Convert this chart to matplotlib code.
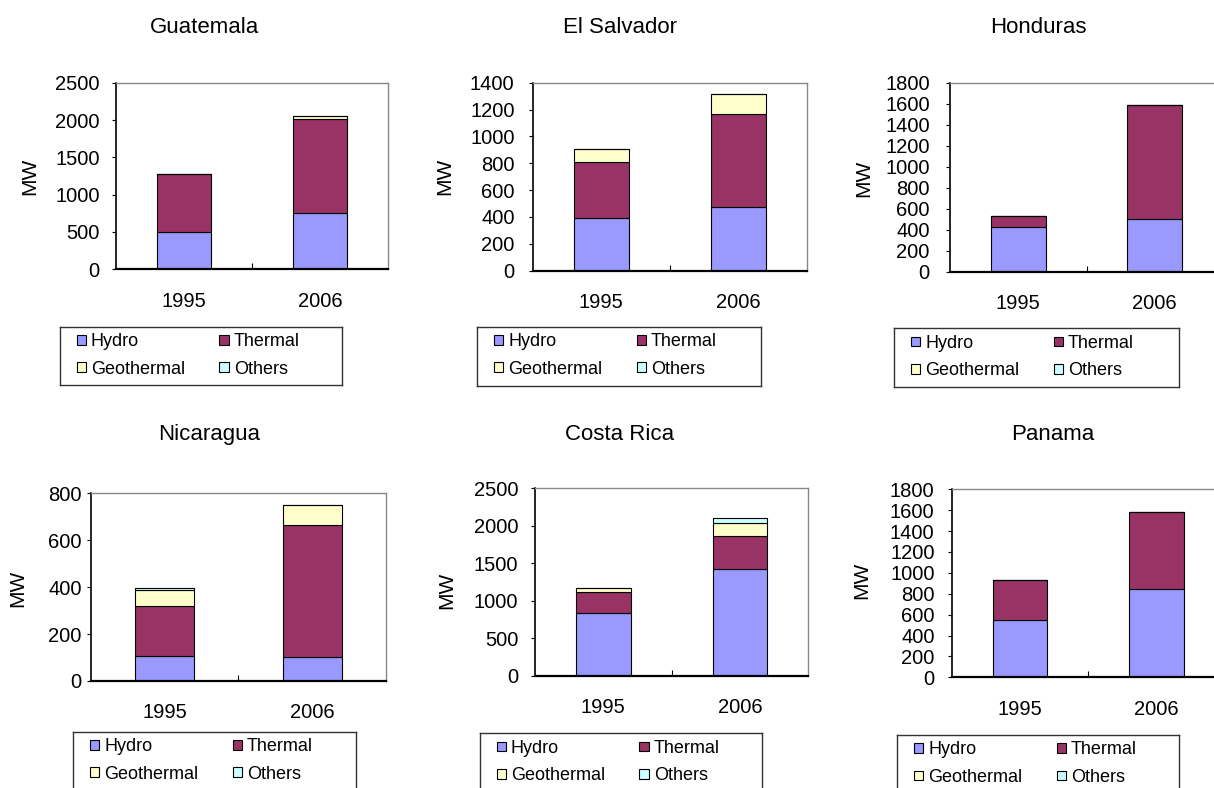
import numpy as np
import matplotlib
matplotlib.use("Agg")
import matplotlib.pyplot as plt

plt.rcParams['font.family'] = ['Liberation Sans', 'DejaVu Sans']

# installed capacity by source, MW
countries = ['Guatemala', 'El Salvador', 'Honduras', 'Nicaragua', 'Costa Rica', 'Panama']
years = ['1995', '2006']
hydro = [[505, 750], [390, 472], [430, 500], [107, 102], [830, 1420], [550, 850]]
thermal = [[772, 1270], [420, 693], [100, 1090], [211, 562], [285, 450], [380, 735]]
geothermal = [[0, 30], [100, 153], [0, 0], [70, 88], [55, 165], [0, 0]]
others = [[0, 0], [0, 0], [0, 0], [10, 0], [0, 75], [0, 0]]
y_max = [2500, 1400, 1800, 800, 2500, 1800]
y_step = [500, 200, 200, 200, 500, 200]

sources = ['Hydro', 'Thermal', 'Geothermal', 'Others']
colors = ['#9999FF', '#993366', '#FFFFCC', '#CCFFFF']

W, H = 1214, 788
fig = plt.figure(figsize=(W / 100, H / 100), dpi=100)


def rect(l, t, r, b):
    return [l / W, 1 - b / H, (r - l) / W, (b - t) / H]


# pixel boxes: plot area, legend box, title/ylabel anchors, tick label gap
plot_box = [(115.7, 82.7, 388, 269.3), (532.7, 82.7, 806.7, 270.7), (950, 82.7, 1223, 271.7),
            (90.7, 493.3, 386, 681), (535, 488.3, 808.3, 675.7), (951.7, 489.3, 1225, 677.3)]
legend_box = [(60, 326.7, 341.7, 385), (477.3, 326.7, 761, 386), (894.3, 328.3, 1179, 387.3),
              (73.3, 731.7, 356, 790), (480, 733.3, 761.7, 792), (897.3, 735, 1179.3, 794)]
title_xy = [(204, 33), (620, 33), (1038, 33), (209, 440), (620, 440), (1053, 440)]
ylabel_xy = [(30, 176), (445, 176.5), (863.7, 178.7), (18, 588), (447, 590), (862, 580)]
tick_gap = [12, 14, 16, 5, 12.5, 13]

for i, name in enumerate(countries):
    ax = fig.add_axes(rect(*plot_box[i]))
    x = np.arange(len(years))
    bottom = np.zeros(len(years))
    series = [hydro[i], thermal[i], geothermal[i], others[i]]
    handles = []
    for src, vals, col in zip(sources, series, colors):
        vals = np.array(vals, dtype=float)
        b = ax.bar(x, vals, 0.4, bottom=bottom, color=col, edgecolor='black',
                   linewidth=0.8, label=src)
        handles.append(b)
        bottom += vals

    ax.set_xlim(-0.5, 1.5)
    ax.set_ylim(0, y_max[i])
    ax.set_yticks(np.arange(0, y_max[i] + 1, y_step[i]))
    ax.set_xticks(x)
    ax.set_xticklabels(years)
    ax.set_xticks([0.5], minor=True)
    ax.tick_params(axis='x', which='major', length=0, pad=16, labelsize=14.5)
    ax.tick_params(axis='x', which='minor', direction='in', length=4.5, width=0.8)
    ax.tick_params(axis='y', direction='out', length=3, width=0.8,
                   pad=tick_gap[i] * 0.72, labelsize=14.5)
    ax.spines['left'].set_linewidth(1.2)
    ax.spines['bottom'].set_linewidth(1.6)
    for s in ('top', 'right'):
        ax.spines[s].set_color('#888888')
        ax.spines[s].set_linewidth(1.0)

    fig.text(title_xy[i][0] / W, 1 - title_xy[i][1] / H, name,
             ha='center', va='baseline', fontsize=16)
    fig.text(ylabel_xy[i][0] / W, 1 - ylabel_xy[i][1] / H, 'MW',
             ha='center', va='center', rotation=90, fontsize=15)

    # legend box below each chart
    lb = legend_box[i]
    lax = fig.add_axes(rect(*lb))
    lax.set_xticks([])
    lax.set_yticks([])
    for s in lax.spines.values():
        s.set_linewidth(1.0)
        s.set_color('#333333')
    bw, bh = lb[2] - lb[0], lb[3] - lb[1]
    order = [handles[0], handles[2], handles[1], handles[3]]
    lax.legend(order, [h.get_label() for h in order], ncol=2, frameon=False,
               loc='upper left', bbox_to_anchor=(16.7 / bw, 1 - 6.5 / bh),
               borderaxespad=0, borderpad=0, fontsize=13,
               handlelength=0.52, handleheight=0.44, handletextpad=0.27,
               columnspacing=1.9, labelspacing=0.58)

fig.savefig('out.png', dpi=100)
